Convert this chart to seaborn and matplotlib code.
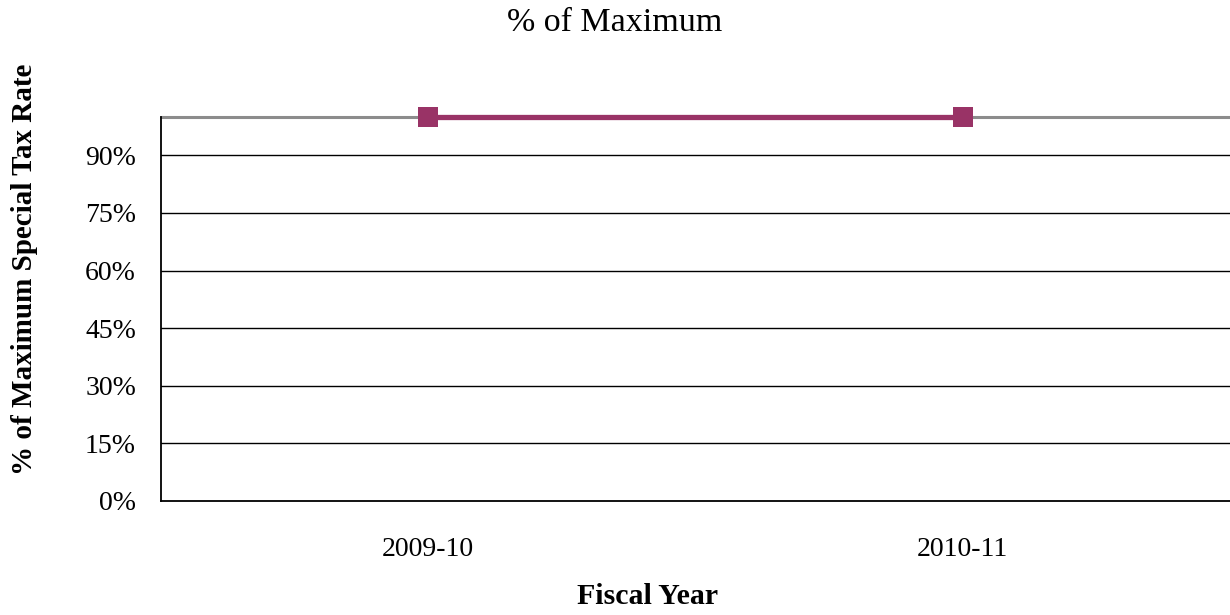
import seaborn as sns
import matplotlib.pyplot as plt
import pandas as pd
from matplotlib.ticker import FixedLocator, FuncFormatter

years = ["2009-10", "2010-11"]
pct_of_max = [100, 100]
yticks = [0, 15, 30, 45, 60, 75, 90]

sns.set_style("white")
plt.rcParams['font.family'] = ['Liberation Serif', 'DejaVu Serif']
plt.rcParams['text.color'] = 'black'
plt.rcParams['axes.labelcolor'] = 'black'

df = pd.DataFrame({"Fiscal Year": years, "pct": pct_of_max})

W, H = 1230, 615
fig = plt.figure(figsize=(12.3, 6.15), dpi=100)
ax = fig.add_axes([161/W, 1 - 501/H, 1 - 161/W, (501 - 117)/H])

for t in yticks[1:]:
    ax.axhline(t, color='black', lw=1, zorder=1)
ax.axhline(100, color='#8c8c8c', lw=2.2, zorder=1, clip_on=False)

sns.lineplot(data=df, x="Fiscal Year", y="pct", ax=ax, color='#993366', lw=3.8,
             marker='s', markersize=14.5, markeredgewidth=0, sort=False, zorder=3,
             clip_on=False)
ax.set_xlim(-0.5, 1.5)
ax.set_ylim(0, 100)
ax.yaxis.set_major_locator(FixedLocator(yticks))
ax.yaxis.set_major_formatter(FuncFormatter(lambda v, p: "{0:d}%".format(int(v))))
ax.tick_params(axis='both', length=0, labelsize=20, colors='black')
ax.tick_params(axis='y', pad=18)
ax.tick_params(axis='x', pad=26)

for s in ['top', 'right']:
    ax.spines[s].set_visible(False)
for s in ['left', 'bottom']:
    ax.spines[s].set_color('black')
    ax.spines[s].set_linewidth(1.3)

ax.set_xlabel("Fiscal Year", fontsize=21.5, fontweight='bold', va='center', color='black')
ax.set_ylabel("% of Maximum Special Tax Rate", fontsize=21, fontweight='bold', va='center', color='black')
ax.xaxis.set_label_coords((648 - 161)/1069, (501 - 597)/384)
ax.yaxis.set_label_coords((25 - 161)/1069, (501 - 269)/384)
fig.text(0.5, 1 - 23/H, "% of Maximum", ha='center', va='center', fontsize=24.5, color='black')

fig.savefig("out.png", dpi=100)
